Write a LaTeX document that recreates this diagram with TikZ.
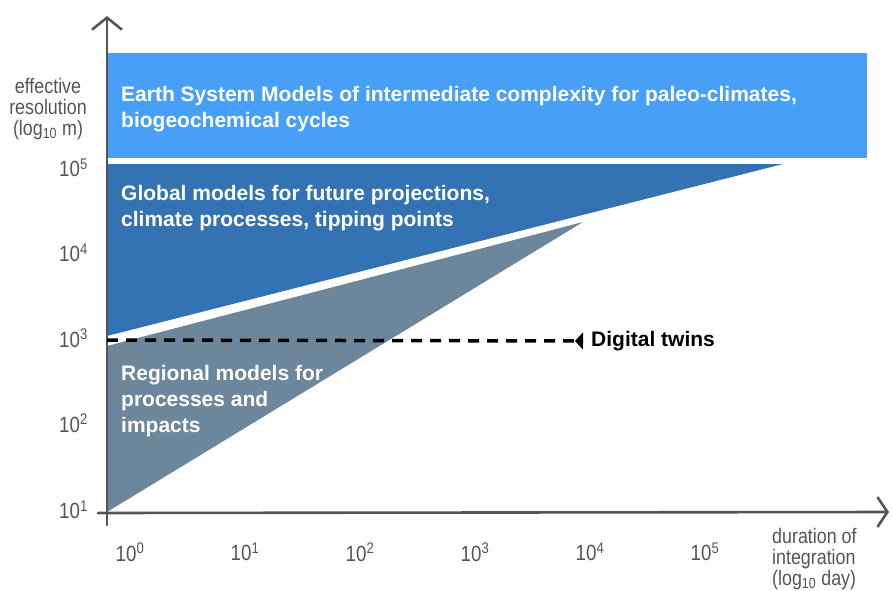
\documentclass[tikz,border=0pt]{standalone}
\usepackage{fontspec}
\setmainfont{Liberation Sans}
\newfontfamily\sketchfont[FakeStretch=0.85]{Liberation Sans}
\usetikzlibrary{arrows.meta}
\definecolor{esmblue}{RGB}{71,159,248}
\definecolor{globalblue}{RGB}{52,115,179}
\definecolor{regiongray}{RGB}{108,134,155}
\definecolor{axisgray}{RGB}{85,85,85}
\tikzset{
  box text/.style={text=white,font=\bfseries\fontsize{21}{25.7}\selectfont,
    align=left,anchor=north west,inner sep=0pt},
  axis/.style={draw=axisgray,line width=2.6pt,line cap=round},
  tick/.style={text=axisgray,font=\sketchfont\fontsize{22}{22}\selectfont,inner sep=0pt},
  axislabel/.style={text=axisgray,font=\sketchfont\fontsize{21}{21}\selectfont,inner sep=0pt},
  dashline/.style={line width=3.5pt,dash pattern=on 11pt off 8pt},
}
\begin{document}
\begin{tikzpicture}[x=1pt,y=-1pt]
\useasboundingbox (0,0) rectangle (892,590);
% regions
\fill[esmblue](107,53)rectangle(867,158);
\fill[globalblue](107,164)--(783,164)--(107,336)--cycle;
\fill[regiongray](107,346)--(583,222)--(107,512)--cycle;
% axes
\draw[axis,-{Straight Barb[length=12pt,width=30pt]}](107,525)--(107,16);
\draw[axis,-{Straight Barb[length=10pt,width=30pt]}](98,513)--(889,512);
% ticks
\foreach \e/\y in {5/168,4/253,3/338,2/423,1/510}{
\node[tick,anchor=east](ytick\e)at(88,\y){10\textsuperscript{\e}};
}
\foreach \e in {0,...,5}{
\node[tick](xtick\e)at(130+115*\e,552){10\textsuperscript{\e}};
}
% axis labels
\node[axislabel,align=center](yname)at(48,109){effective\\resolution\\(log\textsubscript{10} m)};
\node[axislabel,align=left,anchor=north west](xname)at(772,528){duration of\\integration\\(log\textsubscript{10} day)};
% model classes
\node[box text](esm)at(121,86){Earth System Models of intermediate complexity for paleo-climates,\\biogeochemical cycles};
\node[box text](global)at(121,185){Global models for future projections,\\climate processes, tipping points};
\node[box text](regional)at(121,365.5){Regional models for\\processes and\\impacts};
% digital twins
\coordinate(dashstart)at(107,340);
\node[text=black,font=\bfseries\fontsize{21}{24}\selectfont,inner sep=0pt,anchor=west](twins)at(591,341){Digital twins};
\draw[dashline,-{Triangle[reversed,length=8pt,width=17pt]}](dashstart)--([xshift=-8pt]twins.west);
\end{tikzpicture}
\end{document}
